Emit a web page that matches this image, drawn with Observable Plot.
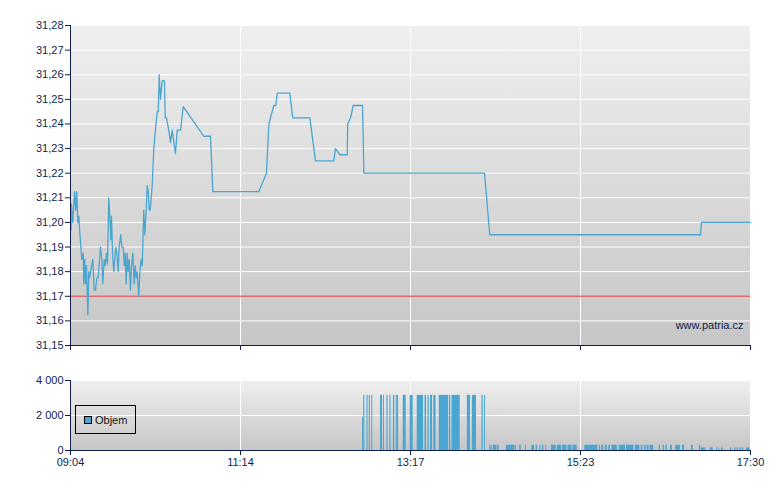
<!DOCTYPE html>
<html>
<head>
<meta charset="utf-8">
<script src="https://cdn.jsdelivr.net/npm/d3@7"></script>
<script src="https://cdn.jsdelivr.net/npm/@observablehq/plot@0.6"></script>
<style>
  html, body { margin: 0; padding: 0; background: #ffffff; }
  #wrap { position: relative; width: 780px; height: 490px; font-family: "Liberation Sans", Arial, sans-serif; }
  #wrap svg { display: block; }
  #legend { position: absolute; left: 75px; top: 405px; width: 59px; height: 27px; border: 1px solid #000; box-sizing: content-box; }
  #legend .sw { position: absolute; left: 8px; top: 10px; width: 6px; height: 6px; background: #4aa6d1; border: 1px solid #000; }
  #legend .lb { position: absolute; left: 19px; top: 8px; font-size: 11px; line-height: 13px; color: #111; }
</style>
</head>
<body>
<div id="wrap"></div>
<script>
// ---- Data (minutes since session open 09:04) ----
const xTickLabels = ["09:04", "11:14", "13:17", "15:23", "17:30"];
const sessionLength = 506; // minutes, 09:04 -> 17:30
const priceTicks = [31.15, 31.16, 31.17, 31.18, 31.19, 31.20, 31.21, 31.22, 31.23, 31.24, 31.25, 31.26, 31.27, 31.28];
const volumeTicks = [0, 2000, 4000];
const referencePrice = 31.17;

const priceTime = [0.4, 0.7, 1.7, 3.0, 3.9, 4.7, 5.4, 6.2, 6.7, 8.4, 9.5, 9.9, 10.6, 11.2, 11.9, 12.9, 13.6, 14.1, 14.9, 15.8,
  16.6, 17.6, 18.6, 19.6, 20.6, 21.6, 22.3, 23.3, 24.0, 25.1, 25.8, 26.8, 27.5, 28.5, 29.2, 30.0, 30.5, 31.3, 32.2, 33.7,
  34.5, 35.5, 36.2, 37.4, 38.2, 39.2, 40.0, 40.7, 41.4, 42.2, 42.9, 43.7, 44.6, 45.4, 46.4, 47.4, 48.1, 48.9, 49.6, 50.8,
  51.6, 52.6, 53.4, 54.5, 55.3, 56.3, 57.1, 57.8, 58.6, 59.3, 60.8, 62.0, 63.2, 64.5, 65.3, 66.0, 67.0, 68.2, 69.9, 70.5,
  71.4, 73.1, 74.4, 75.7, 76.9, 78.1, 79.4, 81.9, 83.9, 99.2, 104.2, 105.9, 140.1, 145.8, 147.6, 151.3, 152.8, 153.8, 163.2, 165.4,
  178.1, 182.3, 195.9, 197.2, 200.4, 205.9, 206.3, 208.4, 210.4, 217.3, 218.3, 308.1, 312.0, 468.8, 469.5, 506.0];
const priceValue = [31.197, 31.2075, 31.200, 31.2125, 31.205, 31.2125, 31.200, 31.2025, 31.1975, 31.185, 31.1875, 31.175, 31.185, 31.175, 31.1825, 31.1625, 31.180, 31.1775, 31.180, 31.1825,
  31.185, 31.1725, 31.1725, 31.1775, 31.1775, 31.185, 31.190, 31.185, 31.175, 31.185, 31.1825, 31.1875, 31.183, 31.210, 31.2025, 31.193, 31.2025, 31.1875, 31.180, 31.190,
  31.1875, 31.180, 31.190, 31.195, 31.190, 31.190, 31.1825, 31.1875, 31.175, 31.1875, 31.180, 31.185, 31.1725, 31.1825, 31.1875, 31.175, 31.1825, 31.1775, 31.180, 31.170,
  31.180, 31.185, 31.1825, 31.205, 31.195, 31.205, 31.215, 31.2125, 31.205, 31.205, 31.215, 31.230, 31.2375, 31.245, 31.245, 31.260, 31.250, 31.2575, 31.2575, 31.2425,
  31.2425, 31.2375, 31.2325, 31.2375, 31.2325, 31.228, 31.2375, 31.2375, 31.247, 31.235, 31.235, 31.2125, 31.2125, 31.220, 31.240, 31.2475, 31.2475, 31.2525, 31.2525, 31.2425,
  31.2425, 31.225, 31.225, 31.230, 31.2275, 31.2275, 31.240, 31.2425, 31.2475, 31.2475, 31.220, 31.220, 31.195, 31.195, 31.200, 31.200];

const volStart = [217.3, 218.2, 220.6, 222.3, 224.2, 230.7, 232.9, 235.5, 237.7, 240.3, 242.4, 243.3, 247.6, 252.8, 258.0, 263.8, 266.0, 267.9, 270.3, 274.4,
  282.0, 283.9, 295.3, 299.0, 306.2, 308.1,
  312.0, 313.5, 314.8, 317.5, 324.4, 330.9, 334.3, 338.6, 343.3, 346.5, 349.2, 351.2, 353.7, 357.9, 362.2, 366.1, 370.2, 373.9, 382.7, 393.6, 395.3, 398.1, 400.5, 402.8,
  408.3, 413.7, 420.4, 424.7, 427.1, 429.1, 431.4, 438.1, 441.0, 443.0, 446.5, 450.4, 455.4, 462.1, 468.0, 469.5, 476.2, 480.7, 482.4, 484.4,
  491.1, 494.1, 496.1, 498.3, 500.2, 503.0];
const volEnd = [218.0, 219.0, 221.4, 223.1, 224.9, 232.2, 233.6, 236.3, 238.5, 241.3, 243.2, 244.1, 249.8, 255.0, 262.7, 264.9, 266.9, 269.4, 272.0, 281.4,
  283.0, 290.0, 297.6, 302.1, 307.1, 308.8,
  313.0, 314.2, 317.0, 319.0, 330.4, 331.9, 335.4, 339.3, 345.3, 347.5, 350.0, 352.2, 354.4, 361.4, 365.4, 369.4, 373.2, 377.0, 392.4, 394.4, 396.8, 399.4, 401.8, 407.0,
  413.0, 419.2, 423.6, 425.9, 428.4, 430.6, 434.0, 439.0, 442.0, 444.0, 447.9, 453.9, 456.9, 463.4, 469.0, 472.7, 478.2, 481.4, 483.1, 485.7,
  492.1, 495.1, 497.1, 499.5, 501.0, 505.5];
const volValue = [1900, 3150, 3150, 3150, 3150, 3150, 3150, 3150, 3150, 3150, 3150, 3150, 3150, 3150, 3150, 3150, 3150, 3150, 3150, 3150,
  3150, 3150, 3150, 3150, 3150, 3150,
  300, 300, 300, 300, 300, 300, 300, 300, 300, 300, 300, 300, 300, 300, 300, 300, 300, 300, 300, 300, 300, 300, 300, 300,
  300, 300, 300, 300, 300, 300, 300, 300, 300, 300, 300, 300, 300, 300, 300, 150, 150, 150, 150, 150,
  150, 150, 150, 150, 150, 150];

// ---- Build tables ----
const xTicks = xTickLabels.map((_, i) => i * sessionLength / (xTickLabels.length - 1));
const price = priceTime.map((t, i) => ({t, v: priceValue[i]}));
const volume = volStart.map((s, i) => ({s, e: volEnd[i], v: volValue[i]}));

const navy = "#0c1f4f";
const lineBlue = "#4aa6d1";
const font = "'Liberation Sans', Arial, sans-serif";
const commaFmt = d => d.toFixed(2).replace(".", ",");
const volFmt = d => d3.format(",")(d).replace(/,/g, " ");

function addGradient(svg, id) {
  const s = d3.select(svg);
  const g = s.insert("defs", ":first-child").append("linearGradient")
    .attr("id", id).attr("x1", 0).attr("y1", 0).attr("x2", 0).attr("y2", 1);
  g.append("stop").attr("offset", 0).attr("stop-color", "#efefef");
  g.append("stop").attr("offset", 1).attr("stop-color", "#c6c6c6");
}

const topChart = Plot.plot({
  width: 780, height: 350,
  marginLeft: 70, marginRight: 30, marginTop: 25, marginBottom: 5,
  style: {fontFamily: font, fontSize: "11px", color: navy, background: "transparent", overflow: "visible"},
  x: {domain: [0, sessionLength]},
  y: {domain: [31.15, 31.28]},
  marks: [
    Plot.frame({fill: "url(#gradTop)", stroke: "none"}),
    Plot.ruleY(priceTicks, {stroke: "white", strokeWidth: 1}),
    Plot.ruleX(xTicks, {stroke: "white", strokeWidth: 1}),
    Plot.ruleY([referencePrice], {stroke: "#e25c5c", strokeWidth: 1.4, strokeOpacity: 0.9}),
    Plot.line(price, {x: "t", y: "v", stroke: lineBlue, strokeWidth: 1.3}),
    Plot.text(["www.patria.cz"], {frameAnchor: "bottom-right", dx: -7, dy: -17, fill: navy, fontSize: 11, textAnchor: "end"}),
    Plot.ruleX([0], {stroke: navy, strokeWidth: 1}),
    Plot.ruleY([31.15], {stroke: navy, strokeWidth: 1}),
    Plot.axisY({ticks: priceTicks, tickFormat: commaFmt, tickSize: 5, tickPadding: 2, label: null, stroke: navy, fill: navy}),
    Plot.axisX({ticks: xTicks, tickFormat: () => "", tickSize: 5, label: null, stroke: navy})
  ]
});
addGradient(topChart, "gradTop");

const bottomChart = Plot.plot({
  width: 780, height: 140,
  marginLeft: 70, marginRight: 30, marginTop: 30, marginBottom: 40,
  style: {fontFamily: font, fontSize: "11px", color: navy, background: "transparent", overflow: "visible"},
  x: {domain: [0, sessionLength]},
  y: {domain: [0, 4000]},
  marks: [
    Plot.frame({fill: "url(#gradBot)", stroke: "none"}),
    Plot.ruleY(volumeTicks, {stroke: "white", strokeWidth: 1}),
    Plot.ruleX(xTicks, {stroke: "white", strokeWidth: 1}),
    Plot.rect(volume, {x1: "s", x2: "e", y1: () => 0, y2: "v", fill: lineBlue}),
    Plot.ruleX([0], {stroke: navy, strokeWidth: 1}),
    Plot.ruleY([0], {stroke: navy, strokeWidth: 1}),
    Plot.axisY({ticks: volumeTicks, tickFormat: volFmt, tickSize: 5, tickPadding: 2, label: null, stroke: navy, fill: navy}),
    Plot.axisX({ticks: xTicks, tickFormat: d => xTickLabels[xTicks.indexOf(d)], tickSize: 5, tickPadding: 3, label: null, stroke: navy, fill: navy})
  ]
});
addGradient(bottomChart, "gradBot");

const wrap = document.getElementById("wrap");
wrap.appendChild(topChart);
wrap.appendChild(bottomChart);
const legend = document.createElement("div");
legend.id = "legend";
legend.innerHTML = '<div class="sw"></div><div class="lb">Objem</div>';
wrap.appendChild(legend);
</script>
</body>
</html>
